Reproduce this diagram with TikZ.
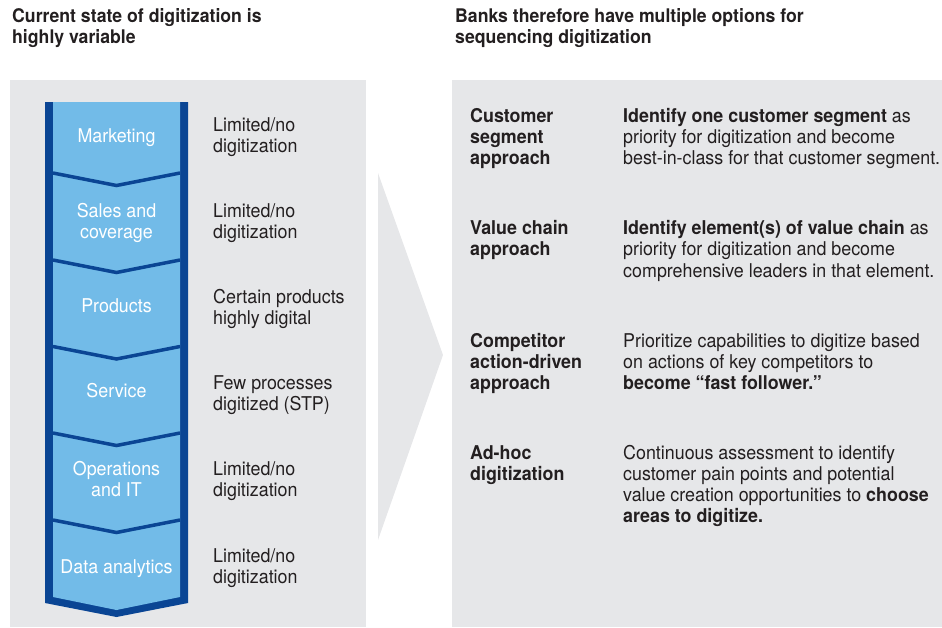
\documentclass[tikz,border=0pt]{standalone}
\usepackage{fontspec}
\setmainfont{TeX Gyre Heros}[FakeStretch=0.94]
\definecolor{dblue}{RGB}{10,69,148}
\definecolor{lblue}{RGB}{114,187,232}
\definecolor{panel}{RGB}{230,231,233}
\definecolor{txt}{RGB}{35,31,32}
\newcommand{\lstk}[1]{\begin{tabular}[t]{@{}l@{}}#1\end{tabular}}
\newcommand{\cstk}[1]{\begin{tabular}[t]{@{}c@{}}#1\end{tabular}}
\tikzset{
  titletext/.style={anchor=base west, inner sep=0pt, text=txt, font=\fontsize{18.8}{20.7}\selectfont\bfseries},
  stagetext/.style={anchor=base, inner sep=0pt, text=white, font=\fontsize{19}{21}\selectfont},
  statetext/.style={anchor=base west, inner sep=0pt, text=txt, font=\fontsize{19}{21}\selectfont},
  optlabel/.style={anchor=base west, inner sep=0pt, text=txt, font=\fontsize{19}{21.3}\selectfont\bfseries},
  optdesc/.style={anchor=base west, inner sep=0pt, text=txt, font=\fontsize{19}{21.3}\selectfont},
  sep/.style={draw=dblue, line width=3.5pt, line join=miter},
}
\begin{document}
\begin{tikzpicture}[x=1pt,y=-1pt]
\useasboundingbox (0,0) rectangle (942,627);
% panels
\fill[panel] (10,80) rectangle (366,627);
\fill[panel] (452,80) rectangle (942,627);
\fill[panel] (378,173) -- (443,355) -- (378,540) -- cycle;
% blue column
\fill[dblue] (45,102) -- (188,102) -- (188,603) -- (116.5,617) -- (45,603) -- cycle;
\fill[lblue] (53,102) -- (180,102) -- (180,597) -- (116.5,610) -- (53,597) -- cycle;
\foreach \s in {173,260,346.5,433,520}{
  \draw[sep] (53,\s) -- (116.5,\s+12.5) -- (180,\s);
}
% titles
\node[titletext] (t1) at (12,22.7) {\lstk{Current state of digitization is\\highly variable}};
\node[titletext] (t2) at (455,22.7) {\lstk{Banks therefore have multiple options for\\sequencing digitization}};
% stages
\node[stagetext] (s1) at (116.5,142) {Marketing};
\node[stagetext] (s2) at (116.5,217) {\cstk{Sales and\\coverage}};
\node[stagetext] (s3) at (116.5,312) {Products};
\node[stagetext] (s4) at (116.5,397) {Service};
\node[stagetext] (s5) at (116.5,475) {\cstk{Operations\\and IT}};
\node[stagetext] (s6) at (116.5,573) {Data analytics};
% states
\node[statetext] (d1) at (213,131) {\lstk{Limited/no\\digitization}};
\node[statetext] (d2) at (213,217) {\lstk{Limited/no\\digitization}};
\node[statetext] (d3) at (213,303) {\lstk{Certain products\\highly digital}};
\node[statetext] (d4) at (213,389) {\lstk{Few processes\\digitized (STP)}};
\node[statetext] (d5) at (213,475) {\lstk{Limited/no\\digitization}};
\node[statetext] (d6) at (213,562) {\lstk{Limited/no\\digitization}};
% options
\node[optlabel] (o1) at (470,122) {\lstk{Customer\\segment\\approach}};
\node[optdesc] (p1) at (623,122) {\lstk{\textbf{Identify one customer segment} as\\priority for digitization and become\\best-in-class for that customer segment.}};
\node[optlabel] (o2) at (470,234.5) {\lstk{Value chain\\approach}};
\node[optdesc] (p2) at (623,234.5) {\lstk{\textbf{Identify element(s) of value chain} as\\priority for digitization and become\\comprehensive leaders in that element.}};
\node[optlabel] (o3) at (470,347) {\lstk{Competitor\\action-driven\\approach}};
\node[optdesc] (p3) at (623,347) {\lstk{Prioritize capabilities to digitize based\\on actions of key competitors to\\\textbf{become “fast follower.”}}};
\node[optlabel] (o4) at (470,459) {\lstk{Ad-hoc\\digitization}};
\node[optdesc] (p4) at (623,459) {\lstk{Continuous assessment to identify\\customer pain points and potential\\value creation opportunities to \textbf{choose}\\\textbf{areas to digitize.}}};
\end{tikzpicture}
\end{document}
